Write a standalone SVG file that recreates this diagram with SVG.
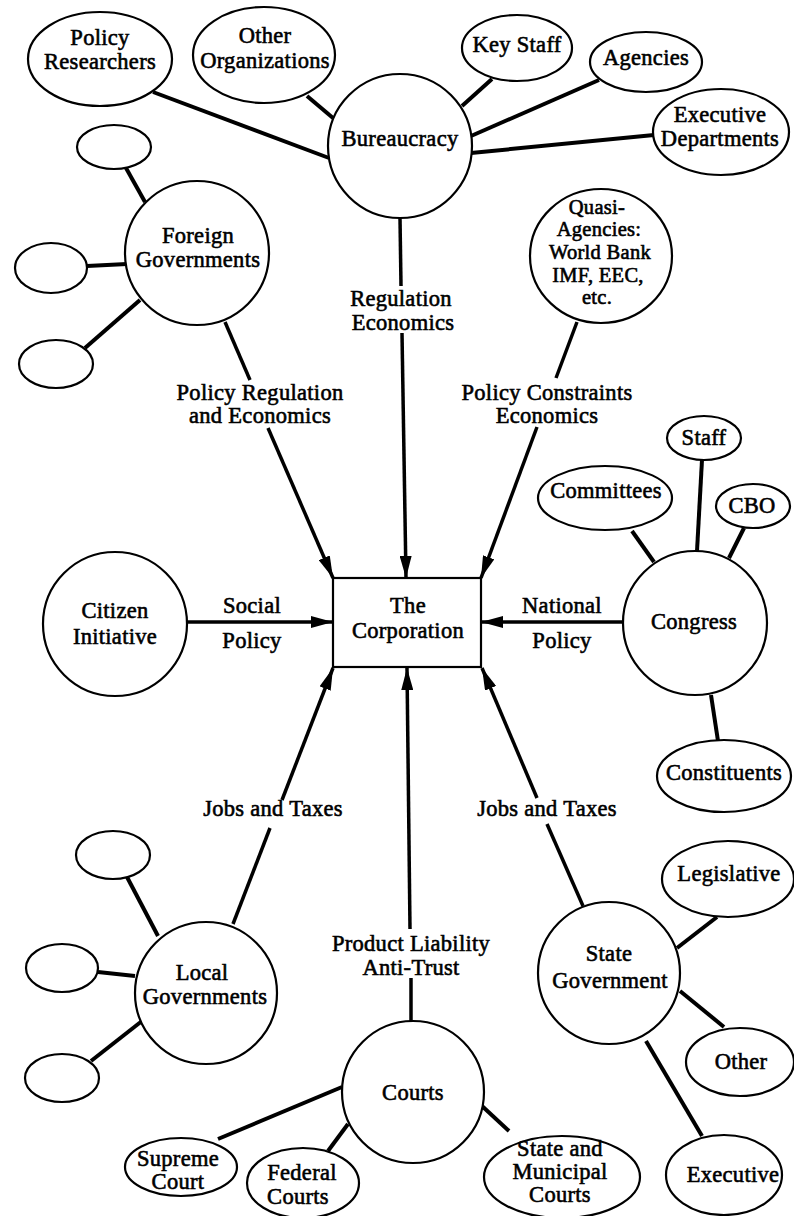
<svg xmlns="http://www.w3.org/2000/svg" width="794" height="1216" viewBox="0 0 794 1216">
<style>
.n{fill:#fff;stroke:#000;stroke-width:2.2}
.s{stroke:#000;stroke-width:4;fill:none;stroke-linecap:butt}
.a{stroke:#000;stroke-width:3.5;fill:none}
text{font-family:"Liberation Serif","Times New Roman",serif;font-weight:normal;font-size:22.5px;letter-spacing:0.3px;fill:#000;stroke:#000;stroke-width:0.6px;text-anchor:middle;dominant-baseline:central}
text.q{font-size:20.5px}
</style>
<defs>
<marker id="ah" markerUnits="userSpaceOnUse" markerWidth="24" markerHeight="12" refX="22" refY="6" orient="auto">
<path d="M0,0 L22,6 L0,12 z" fill="#000"/>
</marker>
</defs>
<rect width="794" height="1216" fill="#fff"/>
<g id="connectors">
<line class="s" x1="153" y1="92" x2="329" y2="158"/>
<line class="s" x1="307" y1="96" x2="333" y2="118"/>
<line class="s" x1="462" y1="106" x2="492" y2="79"/>
<line class="s" x1="471" y1="136" x2="599" y2="80"/>
<line class="s" x1="471" y1="153" x2="654" y2="135"/>
<line class="s" x1="126" y1="168" x2="145" y2="202"/>
<line class="s" x1="87" y1="266" x2="127" y2="264"/>
<line class="s" x1="85" y1="348" x2="140" y2="300"/>
<line class="s" x1="632" y1="531" x2="654" y2="562"/>
<line class="s" x1="702" y1="460" x2="697" y2="551"/>
<line class="s" x1="744" y1="528" x2="729" y2="558"/>
<line class="s" x1="711" y1="695" x2="718" y2="741"/>
<line class="s" x1="127" y1="877" x2="158" y2="936"/>
<line class="s" x1="98" y1="972" x2="135" y2="976"/>
<line class="s" x1="91" y1="1061" x2="142" y2="1021"/>
<line class="s" x1="677" y1="948" x2="717" y2="917"/>
<line class="s" x1="680" y1="991" x2="724" y2="1027"/>
<line class="s" x1="646" y1="1041" x2="702" y2="1136"/>
<line class="s" x1="218" y1="1139" x2="342" y2="1087"/>
<line class="s" x1="328" y1="1151" x2="348" y2="1124"/>
<line class="s" x1="482" y1="1106" x2="509" y2="1131"/>
<line class="a" x1="400" y1="218" x2="401" y2="286"/>
<line class="a" x1="402" y1="333" x2="406" y2="578" marker-end="url(#ah)"/>
<line class="a" x1="225" y1="322" x2="250" y2="380"/>
<line class="a" x1="268" y1="428" x2="333" y2="578" marker-end="url(#ah)"/>
<line class="a" x1="577" y1="322" x2="556" y2="378"/>
<line class="a" x1="537" y1="427" x2="481" y2="578" marker-end="url(#ah)"/>
<line class="a" x1="187" y1="622" x2="333" y2="622" marker-end="url(#ah)"/>
<line class="a" x1="624" y1="622" x2="481" y2="622" marker-end="url(#ah)"/>
<line class="a" x1="233" y1="924" x2="270" y2="828"/>
<line class="a" x1="282" y1="800" x2="333" y2="668" marker-end="url(#ah)"/>
<line class="a" x1="583" y1="906" x2="547" y2="824"/>
<line class="a" x1="537" y1="798" x2="482" y2="668" marker-end="url(#ah)"/>
<line class="a" x1="411" y1="1021" x2="411" y2="978"/>
<line class="a" x1="410" y1="929" x2="407" y2="668" marker-end="url(#ah)"/>
</g>
<g id="edge-labels">
<text x="401" y="298">Regulation</text>
<text x="403" y="322">Economics</text>
<text x="260" y="392">Policy Regulation</text>
<text x="260" y="415">and Economics</text>
<text x="547" y="392">Policy Constraints</text>
<text x="547" y="415">Economics</text>
<text x="252" y="605">Social</text>
<text x="252" y="640">Policy</text>
<text x="562" y="605">National</text>
<text x="562" y="640">Policy</text>
<text x="273" y="808">Jobs and Taxes</text>
<text x="547" y="808">Jobs and Taxes</text>
<text x="411" y="943">Product Liability</text>
<text x="411" y="967">Anti-Trust</text>
</g>
<g id="corporation"><rect class="n" x="333" y="578" width="148" height="89" stroke-width="2.6"/><text x="408" y="605">The</text><text x="408" y="630">Corporation</text></g>
<g id="bureaucracy"><circle class="n" cx="400" cy="146" r="72"/><text x="400" y="138">Bureaucracy</text></g>
<g id="policy-researchers"><ellipse class="n" cx="100" cy="59" rx="72" ry="47"/><text x="100" y="37">Policy</text><text x="100" y="61">Researchers</text></g>
<g id="other-organizations"><ellipse class="n" cx="264" cy="55" rx="71" ry="48"/><text x="265" y="35">Other</text><text x="265" y="60">Organizations</text></g>
<g id="key-staff"><ellipse class="n" cx="517" cy="48" rx="55" ry="33"/><text x="517" y="44">Key Staff</text></g>
<g id="agencies"><ellipse class="n" cx="646" cy="62" rx="56" ry="30"/><text x="646" y="57">Agencies</text></g>
<g id="executive-departments"><ellipse class="n" cx="721" cy="132" rx="68" ry="43"/><text x="720" y="114">Executive</text><text x="720" y="138">Departments</text></g>
<g id="foreign-governments"><circle class="n" cx="197" cy="253" r="72"/><text x="198" y="235">Foreign</text><text x="198" y="259">Governments</text></g>
<g id="foreign-sub-1"><ellipse class="n" cx="114" cy="147" rx="37" ry="22"/></g>
<g id="foreign-sub-2"><ellipse class="n" cx="51" cy="268" rx="36" ry="25"/></g>
<g id="foreign-sub-3"><ellipse class="n" cx="56" cy="364" rx="37" ry="24"/></g>
<g id="quasi-agencies"><ellipse class="n" cx="601" cy="256" rx="71" ry="67"/><text class="q" x="597" y="207">Quasi-</text><text class="q" x="599" y="229">Agencies:</text><text class="q" x="600" y="252">World Bank</text><text class="q" x="598" y="275">IMF, EEC,</text><text class="q" x="597" y="297">etc.</text></g>
<g id="citizen-initiative"><circle class="n" cx="115" cy="624" r="72"/><text x="115" y="610">Citizen</text><text x="115" y="636">Initiative</text></g>
<g id="congress"><circle class="n" cx="695" cy="623" r="72"/><text x="694" y="621">Congress</text></g>
<g id="committees"><ellipse class="n" cx="605" cy="498" rx="67" ry="32"/><text x="606" y="490">Committees</text></g>
<g id="staff"><ellipse class="n" cx="704" cy="438" rx="37" ry="22"/><text x="704" y="437">Staff</text></g>
<g id="cbo"><ellipse class="n" cx="753" cy="506" rx="37" ry="22"/><text x="752" y="505">CBO</text></g>
<g id="constituents"><ellipse class="n" cx="724" cy="776" rx="67" ry="36"/><text x="724" y="772">Constituents</text></g>
<g id="local-governments"><circle class="n" cx="206" cy="993" r="71"/><text x="202" y="972">Local</text><text x="205" y="996">Governments</text></g>
<g id="local-sub-1"><ellipse class="n" cx="113" cy="855" rx="37" ry="24"/></g>
<g id="local-sub-2"><ellipse class="n" cx="62" cy="968" rx="36" ry="24"/></g>
<g id="local-sub-3"><ellipse class="n" cx="62" cy="1078" rx="37" ry="24"/></g>
<g id="state-government"><circle class="n" cx="609" cy="973" r="71"/><text x="609" y="953">State</text><text x="610" y="980">Government</text></g>
<g id="legislative"><ellipse class="n" cx="728" cy="879" rx="66" ry="38"/><text x="729" y="873">Legislative</text></g>
<g id="other"><ellipse class="n" cx="740" cy="1062" rx="54" ry="34"/><text x="741" y="1061">Other</text></g>
<g id="executive"><ellipse class="n" cx="724" cy="1175" rx="58" ry="40"/><text x="733" y="1174">Executive</text></g>
<g id="courts"><circle class="n" cx="413" cy="1092" r="71"/><text x="413" y="1092">Courts</text></g>
<g id="supreme-court"><ellipse class="n" cx="181" cy="1167" rx="56" ry="29"/><text x="178" y="1158">Supreme</text><text x="178" y="1181">Court</text></g>
<g id="federal-courts"><ellipse class="n" cx="303" cy="1183" rx="56" ry="35"/><text x="302" y="1172">Federal</text><text x="298" y="1196">Courts</text></g>
<g id="state-municipal-courts"><ellipse class="n" cx="562" cy="1177" rx="78" ry="41"/><text x="560" y="1148">State and</text><text x="560" y="1171">Municipal</text><text x="560" y="1194">Courts</text></g>
</svg>
